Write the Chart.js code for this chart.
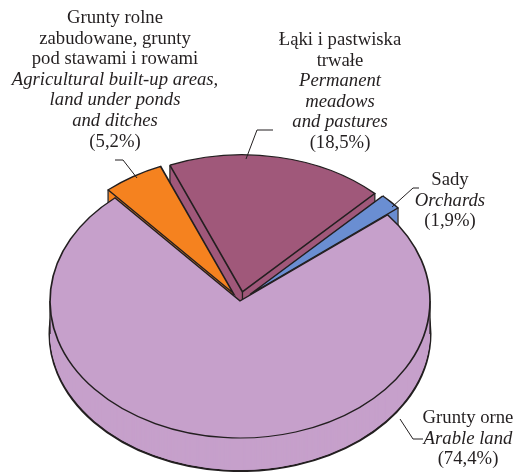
<!DOCTYPE html>
<html>
<head>
<meta charset="utf-8">
<script src="https://cdn.jsdelivr.net/npm/chart.js@4.4.1/dist/chart.umd.min.js"></script>
<style>
html,body{margin:0;padding:0;background:#ffffff;}
canvas{display:block;}
</style>
</head>
<body>
<canvas id="c" width="514" height="472"></canvas>
<script>
// ---- data ----
const categories = ['Grunty orne', 'Grunty rolne zabudowane, grunty pod stawami i rowami', 'Łąki i pastwiska trwałe', 'Sady'];
const categoriesEn = ['Arable land', 'Agricultural built-up areas, land under ponds and ditches', 'Permanent meadows and pastures', 'Orchards'];
const shares = [74.4, 5.2, 18.5, 1.9];
const shareLabels = ['(74,4%)', '(5,2%)', '(18,5%)', '(1,9%)'];
const labelLinesPl = [['Grunty orne'], ['Grunty rolne', 'zabudowane, grunty', 'pod stawami i rowami'], ['Łąki i pastwiska', 'trwałe'], ['Sady']];
const labelLinesEn = [['Arable land'], ['Agricultural built-up areas,', 'land under ponds', 'and ditches'], ['Permanent', 'meadows', 'and pastures'], ['Orchards']];

// ---- styles / layout ----
const sliceColors = ['#C6A0CB', '#F5821F', '#A0587A', '#6A8ED2'];
const explode = [0, 13, 13, 14];
const ink = '#231F20';
const labelLayout = [
  {x: 468, y: 418, leader: [[423,439],[413,439],[400,419]]},
  {x: 115, y: 18,  leader: [[115,160],[123,160],[137,178]]},
  {x: 340, y: 40,  leader: [[273,130],[257,130],[246,159]]},
  {x: 450, y: 180, leader: [[419,188],[413,188],[392,207]]}
];
const fontSize = 18.7;
const lineGap = 20.6;

const pie3d = {
  id: 'pie3d',
  beforeDatasetsDraw(chart, args, o) {
    const ctx = chart.ctx;
    const arcs = chart.getDatasetMeta(0).data;
    const pr = chart.currentDevicePixelRatio || 1;
    const cx0 = arcs[0].x, cy0 = arcs[0].y;
    const setT = (d) => ctx.setTransform(pr, 0, 0, pr * o.tilt, pr * (o.cx - cx0), pr * (o.cy - o.tilt * cy0 + d));
    const order = o.order;
    const drawOne = (i, bw) => {
      const arc = arcs[i];
      const mid = (arc.startAngle + arc.endAngle) / 2;
      const e = o.explode[i] || 0;
      const tmp = Object.create(arc);
      tmp.options = Object.assign({}, arc.options, {borderWidth: bw});
      ctx.save();
      ctx.translate(Math.cos(mid) * e, Math.sin(mid) * e);
      arc.draw.call(tmp, ctx);
      ctx.restore();
    };
    // side extrusion
    for (let d = o.depth; d >= 1; d--) {
      ctx.save();
      setT(d);
      order.forEach(i => drawOne(i, d === o.depth ? o.bottomBorder : 0));
      ctx.restore();
    }
    // vertical edges
    ctx.save();
    ctx.setTransform(pr, 0, 0, pr, 0, 0);
    ctx.strokeStyle = ink;
    ctx.lineWidth = 1.3;
    const toScreen = (px, py) => [px + (o.cx - cx0), o.tilt * py + (o.cy - o.tilt * cy0)];
    order.forEach(i => {
      const arc = arcs[i];
      const mid = (arc.startAngle + arc.endAngle) / 2;
      const e = o.explode[i] || 0;
      const ex = Math.cos(mid) * e, ey = Math.sin(mid) * e;
      const angles = [arc.startAngle, arc.endAngle];
      for (let m = -4; m <= 8; m++) {
        const a = m * Math.PI;
        if (a > arc.startAngle && a < arc.endAngle) angles.push(a);
      }
      const pts = angles.map(a => [arc.x + ex + arc.outerRadius * Math.cos(a), arc.y + ey + arc.outerRadius * Math.sin(a)]);
      pts.push([arc.x + ex, arc.y + ey]);
      pts.forEach(p => {
        const s = toScreen(p[0], p[1]);
        ctx.beginPath();
        ctx.moveTo(s[0], s[1]);
        ctx.lineTo(s[0], s[1] + o.depth);
        ctx.stroke();
      });
    });
    ctx.restore();
    // top faces
    ctx.save();
    setT(0);
    order.forEach(i => drawOne(i, arcs[i].options.borderWidth));
    ctx.restore();
    return false;
  },
  afterDraw(chart) {
    const ctx = chart.ctx;
    ctx.save();
    ctx.fillStyle = ink;
    ctx.strokeStyle = ink;
    ctx.lineWidth = 1;
    ctx.textAlign = 'center';
    ctx.textBaseline = 'middle';
    labelLayout.forEach((L, i) => {
      let y = L.y;
      ctx.font = fontSize + 'px "Liberation Serif", "Times New Roman", serif';
      labelLinesPl[i].forEach(t => { ctx.fillText(t, L.x, y); y += lineGap; });
      ctx.font = 'italic ' + fontSize + 'px "Liberation Serif", "Times New Roman", serif';
      labelLinesEn[i].forEach(t => { ctx.fillText(t, L.x, y); y += lineGap; });
      ctx.font = fontSize + 'px "Liberation Serif", "Times New Roman", serif';
      ctx.fillText(shareLabels[i], L.x, y);
      ctx.beginPath();
      L.leader.forEach((p, k) => k ? ctx.lineTo(p[0], p[1]) : ctx.moveTo(p[0], p[1]));
      ctx.stroke();
    });
    ctx.restore();
  }
};

new Chart(document.getElementById('c'), {
  type: 'pie',
  data: {
    labels: categories,
    datasets: [{
      data: shares,
      backgroundColor: sliceColors,
      borderColor: ink,
      borderWidth: 1.7,
      borderJoinStyle: 'miter',
      radius: 190
    }]
  },
  options: {
    responsive: false,
    animation: false,
    devicePixelRatio: 1,
    rotation: 51,
    events: [],
    layout: {padding: 0},
    plugins: {
      legend: {display: false},
      tooltip: {enabled: false},
      pie3d: {cx: 240, cy: 301, tilt: 0.721, depth: 33, bottomBorder: 3, explode: explode, order: [1, 2, 3, 0]}
    }
  },
  plugins: [pie3d]
});
</script>
</body>
</html>
